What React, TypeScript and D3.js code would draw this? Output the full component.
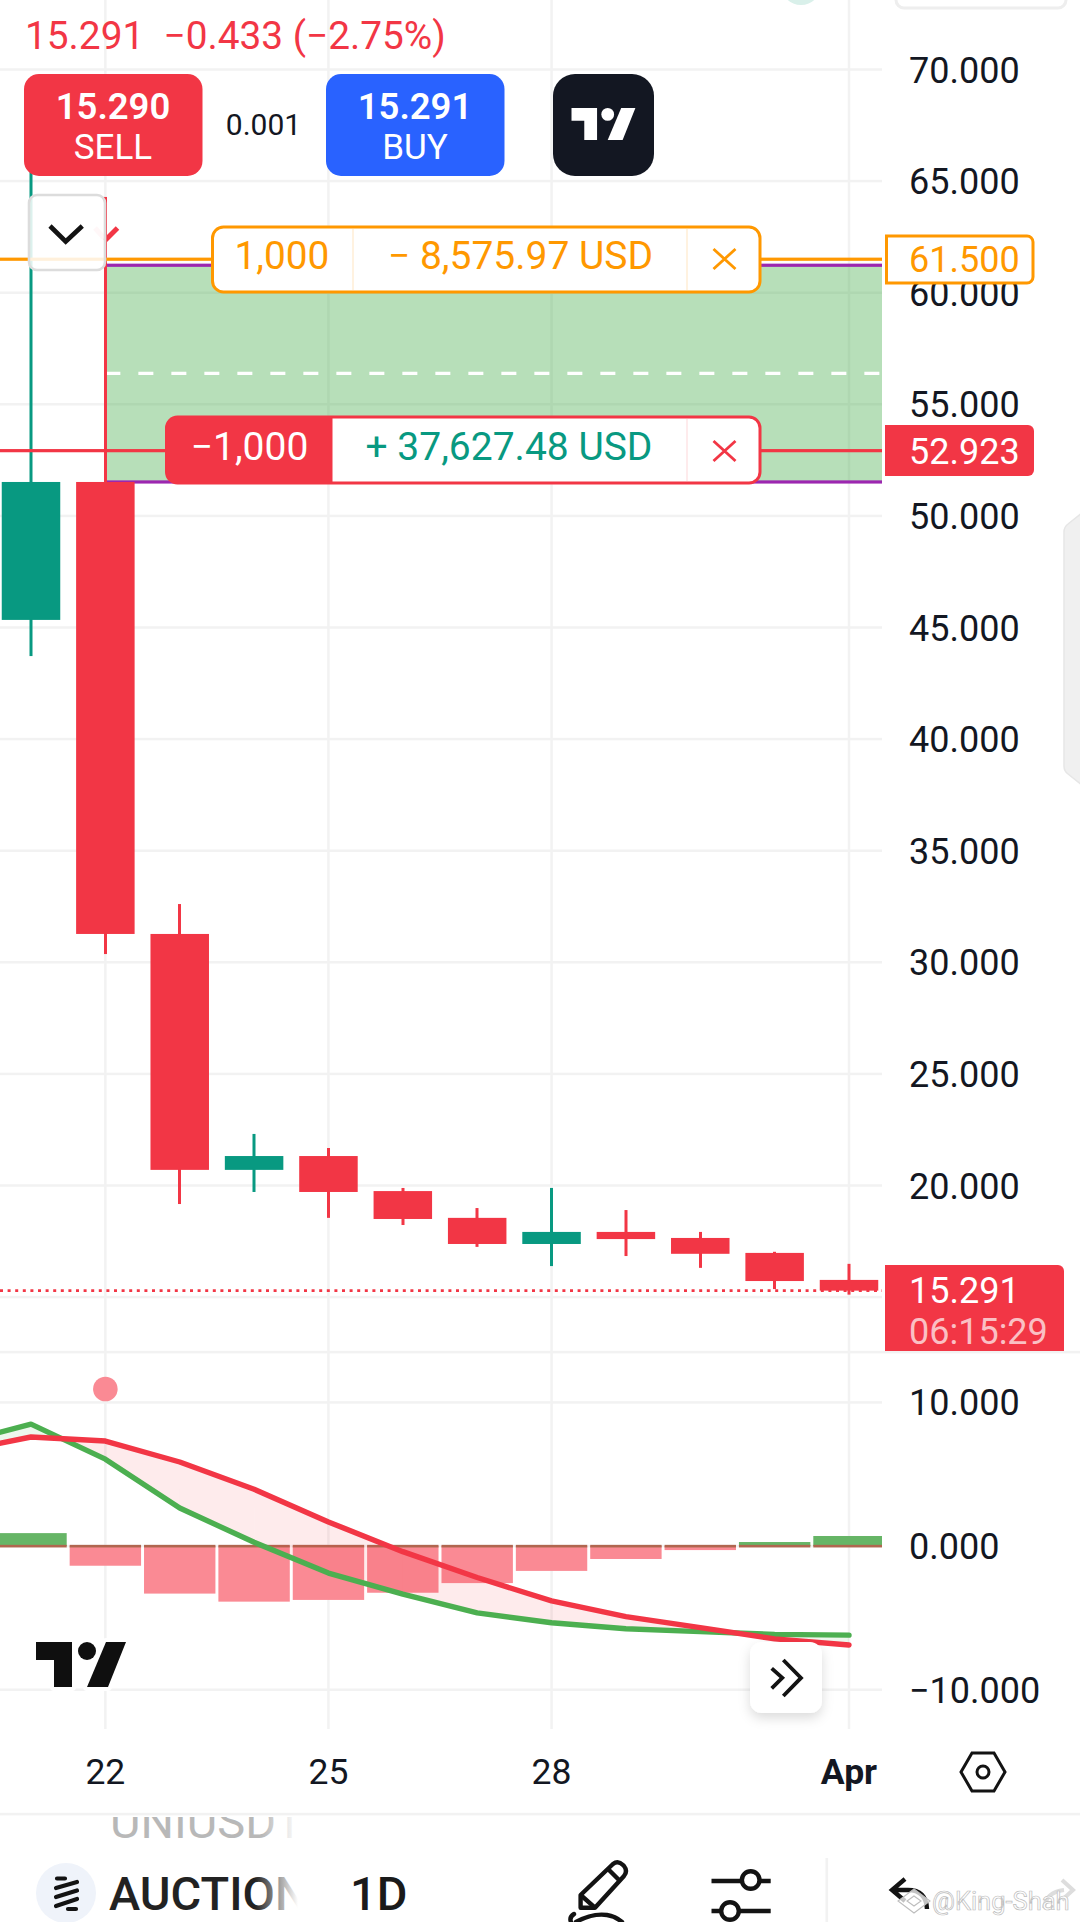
import React, { useEffect } from "react";
import * as d3 from "d3";

const days = ["21", "22", "23", "24", "25", "26", "27", "28", "29", "30", "31", "Apr"];
const opens = [45.34, 51.52, 31.27, 20.7, 21.32, 19.75, 18.55, 17.38, 17.92, 17.65, 16.98, 15.77];
const closes = [51.52, 31.27, 20.7, 21.32, 19.71, 18.5, 17.38, 17.92, 17.6, 16.94, 15.72, 15.29];
const highs = [68.2, 64.29, 32.61, 22.31, 21.68, 19.89, 18.99, 19.89, 18.9, 17.92, 17.03, 16.49];
const lows = [43.72, 30.37, 19.17, 19.71, 18.55, 18.23, 17.25, 16.39, 16.84, 16.31, 15.36, 15.11];

const macdIdx = [-1, 0, 1, 2, 3, 4, 5, 6, 7, 8, 9, 10, 11];
const macdLine = [7.14, 8.49, 6.05, 2.65, 0.26, -1.88, -3.35, -4.65, -5.34, -5.76, -5.96, -6.15, -6.2];
const signalLine = [6.57, 7.59, 7.31, 5.85, 3.95, 1.68, -0.39, -2.19, -3.82, -4.91, -5.68, -6.46, -6.89];
const histogram = [0.9, -1.37, -3.31, -3.87, -3.75, -3.25, -2.58, -1.73, -0.9, -0.28, 0.28, 0.7];

const priceGrid = [70, 65, 60, 55, 50, 45, 40, 35, 30, 25, 20, 15];
const priceLabels = [70, 65, 60, 55, 50, 45, 40, 35, 30, 25, 20];
const macdTicks = [10, 0, -10];
const timeTicks = [1, 4, 7, 11];
const timeLabels = ["22", "25", "28", "Apr"];

const lastPrice = 15.291;
const longStop = 61.5;
const shortEntry = 52.923;
const zoneTop = 61.23;
const zoneMid = 56.39;
const zoneBottom = 51.52;
const signalDot = 10.93;

const RED = "#f23645";
const TEAL = "#089981";
const GREEN = "#4caf50";
const ORANGE = "#ff9800";
const GRID = "#f2f2f2";
const PINK = "#fa8a94";
const FONT = "Roboto, sans-serif";
const PANE_R = 882;

const x = d3.scaleLinear().domain([0, 11]).range([31, 849]);
const y = d3.scaleLinear().domain([70, 20]).range([69.5, 1185.5]);
const m = d3.scaleLinear().domain([10, -10]).range([1402.4, 1689.7]);
const crisp = (c: number) => Math.round(c * 2) / 2;

function T(p: any) {
  const { x: tx, y: ty, size = 36, fill = "#131722", weight = 400, anchor = "start", children, ...rest } = p;
  return (
    <text x={tx} y={ty} fontSize={size} fill={fill} fontWeight={weight} textAnchor={anchor} fontFamily={FONT} {...rest}>
      {children}
    </text>
  );
}

function Logo({ ox, oy, s, fill, halo }: { ox: number; oy: number; s: number; fill: string; halo?: boolean }) {
  const t = `M0,0H36V45H18V18H0Z`;
  const sl = `M70,0H90L72,45H51Z`;
  const common = halo ? { stroke: "#fff", strokeWidth: 8, paintOrder: "stroke", strokeLinejoin: "round" as const } : {};
  return (
    <g transform={`translate(${ox},${oy}) scale(${s})`} fill={fill}>
      <path d={t} {...common} />
      <circle cx={51} cy={9} r={9} {...common} />
      <path d={sl} {...common} />
    </g>
  );
}

function X({ cx, cy, color }: { cx: number; cy: number; color: string }) {
  return (
    <path d={`M${cx - 11},${cy - 10}L${cx + 11},${cy + 10}M${cx + 11},${cy - 10}L${cx - 11},${cy + 10}`} stroke={color} strokeWidth={2.8} fill="none" />
  );
}

function segmentFills() {
  const area = d3
    .area<{ x: number; a: number; b: number }>()
    .x((d) => x(d.x))
    .y0((d) => m(d.a))
    .y1((d) => m(d.b));
  const out: React.ReactElement[] = [];
  for (let i = 0; i < macdIdx.length - 1; i++) {
    const d0 = macdLine[i] - signalLine[i];
    const d1 = macdLine[i + 1] - signalLine[i + 1];
    const p0 = { x: macdIdx[i], a: macdLine[i], b: signalLine[i] };
    const p1 = { x: macdIdx[i + 1], a: macdLine[i + 1], b: signalLine[i + 1] };
    if (d0 * d1 < 0) {
      const t = d0 / (d0 - d1);
      const v = macdLine[i] + t * (macdLine[i + 1] - macdLine[i]);
      const pc = { x: macdIdx[i] + t, a: v, b: v };
      out.push(<path key={`a${i}`} d={area([p0, pc]) || ""} fill={d0 > 0 ? GREEN : RED} fillOpacity={0.1} />);
      out.push(<path key={`b${i}`} d={area([pc, p1]) || ""} fill={d1 > 0 ? GREEN : RED} fillOpacity={0.1} />);
    } else {
      out.push(<path key={`a${i}`} d={area([p0, p1]) || ""} fill={d0 > 0 ? GREEN : RED} fillOpacity={0.1} />);
    }
  }
  return out;
}

export default function App() {
  useEffect(() => {
    document.body.style.margin = "0";
  }, []);

  const line = d3
    .line<number>()
    .x((_, i) => x(macdIdx[i]))
    .y((d) => m(d));
  const bodyW = 58.5;
  const barW = 71.4;
  const zero = m(0);

  return (
    <svg width={1080} height={1922} viewBox="0 0 1080 1922" style={{ position: "absolute", left: 0, top: 0, background: "#fff", display: "block" }}>
      <defs>
        <clipPath id="pane">
          <rect x={0} y={0} width={PANE_R} height={1922} />
        </clipPath>
        <clipPath id="sym">
          <rect x={0} y={1817} width={1080} height={105} />
        </clipPath>
        <linearGradient id="fadeA" gradientUnits="userSpaceOnUse" x1={255} x2={298} y1={0} y2={0}>
          <stop offset="0" stopColor="#222" stopOpacity={1} />
          <stop offset="1" stopColor="#222" stopOpacity={0} />
        </linearGradient>
        <linearGradient id="fadeU" gradientUnits="userSpaceOnUse" x1={262} x2={298} y1={0} y2={0}>
          <stop offset="0" stopColor="#b8b8b8" stopOpacity={1} />
          <stop offset="1" stopColor="#b8b8b8" stopOpacity={0} />
        </linearGradient>
        <filter id="shadow" x="-30%" y="-30%" width="160%" height="170%">
          <feDropShadow dx={0} dy={5} stdDeviation={6} floodColor="#000" floodOpacity={0.14} />
        </filter>
      </defs>

      {/* grid */}
      {priceGrid.map((t) => (
        <rect key={t} x={0} y={y(t) - 1.25} width={PANE_R} height={2.5} fill={GRID} />
      ))}
      {macdTicks.map((t) => (
        <rect key={t} x={0} y={m(t) - 1.25} width={PANE_R} height={2.5} fill={GRID} />
      ))}
      {timeTicks.map((i) => (
        <rect key={i} x={x(i) - 1.25} y={0} width={2.5} height={1729} fill={GRID} />
      ))}
      <rect x={0} y={1350.8} width={1080} height={2.6} fill={GRID} />
      <rect x={0} y={1812.8} width={1080} height={2.6} fill={GRID} />

      {/* position zone */}
      <rect x={x(1)} y={y(zoneTop)} width={PANE_R - x(1)} height={y(zoneBottom) - y(zoneTop)} fill={GREEN} fillOpacity={0.4} />
      <line x1={x(1)} x2={PANE_R} y1={y(zoneMid)} y2={y(zoneMid)} stroke="#fff" strokeWidth={3.2} strokeDasharray="15 18" />
      <rect x={x(1)} y={y(zoneTop) - 1.6} width={PANE_R - x(1)} height={3.2} fill="#9c27b0" />
      <rect x={x(1)} y={y(zoneBottom) - 1.6} width={PANE_R - x(1)} height={3.2} fill="#9c27b0" />

      {/* candles */}
      <g clipPath="url(#pane)">
        {days.map((d, i) => {
          const up = closes[i] >= opens[i];
          const c = up ? TEAL : RED;
          const top = y(Math.max(opens[i], closes[i]));
          const bot = y(Math.min(opens[i], closes[i]));
          return (
            <g key={d} fill={c}>
              <rect x={crisp(x(i)) - 1.5} y={y(highs[i])} width={3} height={y(lows[i]) - y(highs[i])} />
              <rect x={x(i) - bodyW / 2} y={top} width={bodyW} height={bot - top} />
            </g>
          );
        })}
      </g>

      {/* price level lines */}
      <rect x={0} y={y(longStop) - 1.6} width={PANE_R} height={3.2} fill={ORANGE} />
      <rect x={0} y={y(shortEntry) - 1.6} width={PANE_R} height={3.2} fill={RED} />
      <line x1={0} x2={PANE_R} y1={y(lastPrice)} y2={y(lastPrice)} stroke={RED} strokeWidth={2.8} strokeDasharray="3 4.6" />

      {/* sell arrow marker */}
      <path d="M117.5,228L104.5,241" stroke={RED} strokeWidth={5} fill="none" />
      <path d="M95,228L104,238" stroke={PINK} strokeOpacity={0.5} strokeWidth={5} fill="none" />

      {/* chevron box */}
      <rect x={29} y={195} width={76} height={75} rx={8} fill="#fff" fillOpacity={0.86} stroke="#dcdcdc" strokeWidth={2.6} />
      <path d="M50,226L65.7,241.5L82.3,226" fill="none" stroke="#131313" strokeWidth={4.6} />

      {/* header */}
      <T x={25} y={49} size={38.8} fill={RED} style={{ whiteSpace: "pre" }}>
        {"15.291  −0.433 (−2.75%)"}
      </T>
      <rect x={24} y={74} width={178.5} height={102} rx={15} fill={RED} />
      <T x={113} y={119} size={36.5} fill="#fff" weight={600} anchor="middle">15.290</T>
      <T x={113} y={159} size={35} fill="#fff" anchor="middle">SELL</T>
      <T x={263.5} y={135} size={30} anchor="middle">0.001</T>
      <rect x={326} y={74} width={178.5} height={102} rx={15} fill="#2962ff" />
      <T x={415} y={119} size={36.5} fill="#fff" weight={600} anchor="middle">15.291</T>
      <T x={415} y={159} size={35} fill="#fff" anchor="middle">BUY</T>
      <rect x={553} y={74} width={101} height={102} rx={22} fill="#131722" />
      <Logo ox={571.5} oy={108} s={0.71} fill="#fff" />

      {/* order boxes */}
      <rect x={212.5} y={227} width={547.5} height={65} rx={11} fill="#fff" stroke={ORANGE} strokeWidth={3} />
      <line x1={353} x2={353} y1={229} y2={290} stroke={ORANGE} strokeOpacity={0.12} strokeWidth={2} />
      <line x1={687} x2={687} y1={229} y2={290} stroke={ORANGE} strokeOpacity={0.12} strokeWidth={2} />
      <T x={282} y={269} size={38.8} fill={ORANGE} anchor="middle">1,000</T>
      <T x={520.5} y={269} size={39} fill={ORANGE} anchor="middle">− 8,575.97 USD</T>
      <X cx={724.5} cy={259} color={ORANGE} />

      <rect x={166.5} y={417} width={593.5} height={66} rx={11} fill="#fff" stroke={RED} strokeWidth={3} />
      <path d="M177,417H332.5V483H177A10.5,10.5 0 0 1 166.5,472.5V427.5A10.5,10.5 0 0 1 177,417Z" fill={RED} />
      <line x1={687} x2={687} y1={419} y2={481} stroke={RED} strokeOpacity={0.1} strokeWidth={2} />
      <T x={249.5} y={460} size={39} fill="#fff" anchor="middle">−1,000</T>
      <T x={509} y={460} size={39} fill={TEAL} anchor="middle">+ 37,627.48 USD</T>
      <X cx={724.5} cy={451} color={RED} />

      {/* MACD pane */}
      <g clipPath="url(#pane)">
        {histogram.map((v, i) => {
          const yv = m(v);
          return (
            <g key={i}>
              <rect x={x(i) - barW / 2} y={Math.min(yv, zero)} width={barW} height={Math.abs(yv - zero)} fill={v >= 0 ? "#66b566" : PINK} />
              <rect x={x(i) - barW / 2} y={zero - 1.2} width={barW} height={2.6} fill="#b0664f" />
            </g>
          );
        })}
        {segmentFills()}
        <path d={line(macdLine) || ""} fill="none" stroke={GREEN} strokeWidth={5.4} strokeLinecap="round" strokeLinejoin="round" />
        <path d={line(signalLine) || ""} fill="none" stroke={RED} strokeWidth={5.4} strokeLinecap="round" strokeLinejoin="round" />
      </g>
      <circle cx={x(1)} cy={m(signalDot)} r={12.3} fill={PINK} />
      <Logo ox={36} oy={1642} s={1} fill="#0f0f0f" halo />

      {/* jump button */}
      <rect x={750} y={1642} width={72} height={71} rx={12} fill="#fff" filter="url(#shadow)" />
      <path d="M771.7,1668.3L782.3,1677.9L771.7,1688.3M783.3,1660L801,1677.9L783.3,1696" fill="none" stroke="#131313" strokeWidth={3.8} />

      {/* axis labels */}
      {priceLabels.map((t) => (
        <T key={t} x={909} y={y(t) + 13} size={36}>{d3.format(".3f")(t)}</T>
      ))}
      {macdTicks.map((t) => (
        <T key={t} x={909} y={m(t) + 13} size={36}>{d3.format(".3f")(t).replace("-", "−")}</T>
      ))}

      {/* price tags */}
      <path d="M886.5,236H1027a6,6 0 0 1 6,6V277a6,6 0 0 1 -6,6H886.5Z" fill="#fff" stroke={ORANGE} strokeWidth={3} />
      <T x={909} y={y(longStop) + 13} size={36} fill={ORANGE}>61.500</T>
      <path d="M885,425H1028a6,6 0 0 1 6,6V470a6,6 0 0 1 -6,6H885Z" fill={RED} />
      <T x={909} y={y(shortEntry) + 13} size={36} fill="#fff">52.923</T>
      <path d="M885,1265H1058a6,6 0 0 1 6,6V1351H885Z" fill={RED} />
      <T x={909} y={1303} size={36} fill="#fff">15.291</T>
      <T x={909} y={1344} size={36} fill="#fff" fillOpacity={0.7}>06:15:29</T>

      {/* time labels */}
      {timeTicks.map((i, k) => (
        <T key={i} x={x(i)} y={1784} size={35.5} anchor="middle" weight={timeLabels[k] === "Apr" ? 700 : 400}>{timeLabels[k]}</T>
      ))}
      <path d="M961,1772L972,1753H994L1005,1772L994,1791H972Z" fill="none" stroke="#131313" strokeWidth={3} />
      <circle cx={983} cy={1772} r={6} fill="none" stroke="#131313" strokeWidth={3} />

      {/* page furniture at the top and right */}
      <circle cx={801} cy={-15} r={20} fill="#d9f0ea" />
      <path d="M896,-4V0a8,8 0 0 0 8,8H1058a8,8 0 0 0 8,-8V-4" fill="#fff" stroke="#eeeeee" strokeWidth={3} />
      <path d="M1082,513L1068,524Q1064,527 1064,532V766Q1064,771 1068,774L1082,785Z" fill="#f0f0f0" stroke="#e6e6e6" strokeWidth={1.5} />

      {/* bottom bar */}
      <g clipPath="url(#sym)">
        <T x={110} y={1838} size={47} fill="url(#fadeU)">UNIUSDT</T>
      </g>
      <circle cx={66} cy={1893} r={30} fill="#eff3fa" />
      <path d="M57,1878.5H65M56,1888L77,1882M56,1897L77,1890.5M56,1906L77,1899M68,1909H76" fill="none" stroke="#131313" strokeWidth={4.2} strokeLinecap="round" />
      <T x={109} y={1910} size={47} weight={500} fill="url(#fadeA)">AUCTION</T>
      <T x={350} y={1910} size={47} weight={500} fill="#1a1a1a">1D</T>

      <g fill="none" stroke="#131313" strokeWidth={4.4}>
        <path d="M580.6,1895L613,1864Q618,1860 623,1865L624,1866Q628,1871 624,1876L595,1907.7H580.6Z" strokeLinejoin="round" />
        <path d="M580.6,1895L595,1907.7M608,1869L620,1881" />
        <path d="M571,1922Q569,1917 574,1914M576,1922Q592,1913 607,1915Q615,1916 622,1922" strokeLinecap="round" />
        <path d="M711.5,1881H741M760,1881H770.7M711.5,1911H721M739,1911H770.7" />
        <circle cx={750.7} cy={1880} r={8.8} fill="#fff" />
        <circle cx={730} cy={1911} r={8.8} fill="#fff" />
        <path d="M905,1879L892,1890L905,1901M892,1890H908Q926,1890 927,1909" />
      </g>
      <rect x={825.5} y={1858} width={2.6} height={64} fill={GRID} />

      {/* watermark */}
      <path d="M1044,1908Q1046,1892 1064,1890M1062,1880L1073,1890L1062,1900" fill="none" stroke="#dddddd" strokeWidth={4} />
      <g fill="#fff" fillOpacity={0.75} stroke="#bdbdbd" strokeWidth={1.1}>
        <path d="M914,1889L930,1901L914,1913L898,1901Z" />
        <path d="M914,1896L921,1901L914,1906L907,1901Z" />
      </g>
      <T x={932} y={1910} size={25.5} fill="#fff" stroke="#bcbcbc" strokeWidth={0.7}>@King-Shah</T>
    </svg>
  );
}
